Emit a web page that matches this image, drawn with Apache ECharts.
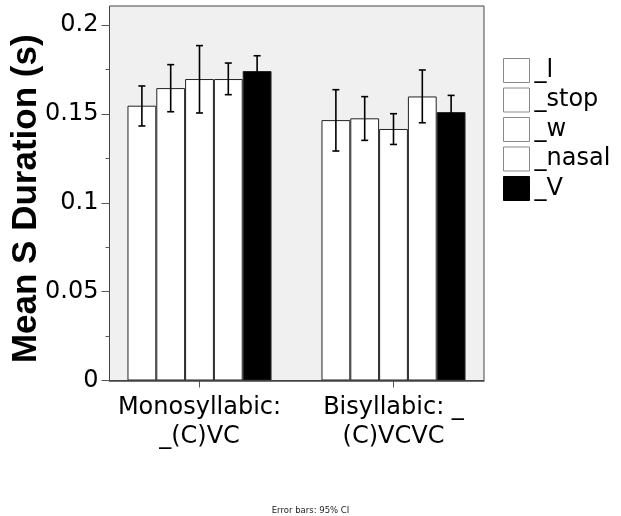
<!DOCTYPE html>
<html>
<head>
<meta charset="utf-8">
<script src="https://cdn.jsdelivr.net/npm/echarts@6/dist/echarts.min.js"></script>
<style>html,body{margin:0;padding:0;background:#fff;}#chart{width:621px;height:516px;}</style>
</head>
<body>
<div id="chart"></div>
<script>
// ---- data ----
var categories = ['Monosyllabic:\n_(C)VC', 'Bisyllabic: _\n(C)VCVC'];
var seriesNames = ['_l', '_stop', '_w', '_nasal', '_V'];
var mean_l     = [0.1546, 0.1465];
var mean_stop  = [0.1645, 0.1475];
var mean_w     = [0.1696, 0.1415];
var mean_nasal = [0.1696, 0.1598];
var mean_V     = [0.1741, 0.1510];
var ciLow_l     = [0.1432, 0.1291];
var ciHigh_l    = [0.1657, 0.1636];
var ciLow_stop  = [0.1512, 0.1351];
var ciHigh_stop = [0.1777, 0.1597];
var ciLow_w     = [0.1505, 0.1328];
var ciHigh_w    = [0.1884, 0.1501];
var ciLow_nasal = [0.1608, 0.1450];
var ciHigh_nasal= [0.1786, 0.1747];
var ciLow_V     = [0.1655, 0.1416];
var ciHigh_V    = [0.1827, 0.1604];
var yTicks = [0, 0.05, 0.1, 0.15, 0.2];
var footnote = 'Error bars: 95% CI';
var yTitle = 'Mean S Duration (s)';

// ---- build ----
var means = [mean_l, mean_stop, mean_w, mean_nasal, mean_V];
var lows = [ciLow_l, ciLow_stop, ciLow_w, ciLow_nasal, ciLow_V];
var highs = [ciHigh_l, ciHigh_stop, ciHigh_w, ciHigh_nasal, ciHigh_V];
var fills = ['#ffffff', '#ffffff', '#ffffff', '#ffffff', '#000000'];
var BAR_FRAC = 0.1485;
var FONT = 'DejaVu Sans';

var errData = [];
for (var s = 0; s < seriesNames.length; s++) {
  for (var c = 0; c < categories.length; c++) {
    errData.push([c, s, lows[s][c], highs[s][c]]);
  }
}

var series = seriesNames.map(function (name, i) {
  return {
    name: name,
    type: 'bar',
    xAxisIndex: 2,
    yAxisIndex: 2,
    barWidth: (BAR_FRAC * 100) + '%',
    barGap: '0%',
    data: means[i],
    itemStyle: { color: fills[i], borderColor: '#222', borderWidth: 1 },
    emphasis: { disabled: true },
    animation: false
  };
});

series.push({
  name: 'errorbars',
  type: 'custom',
  xAxisIndex: 2,
  yAxisIndex: 2,
  data: errData,
  z: 5,
  animation: false,
  renderItem: function (params, api) {
    var cat = api.value(0), si = api.value(1);
    var band = api.size([1, 0])[0];
    var bw = band * BAR_FRAC;
    var n = seriesNames.length;
    var cx = api.coord([cat, 0])[0] + (si - (n - 1) / 2) * bw;
    var yl = api.coord([cat, api.value(2)])[1];
    var yh = api.coord([cat, api.value(3)])[1];
    var hw = 3.5;
    var st = { stroke: '#000', lineWidth: 1.6 };
    return {
      type: 'group',
      children: [
        { type: 'line', shape: { x1: cx, y1: yl, x2: cx, y2: yh }, style: st },
        { type: 'line', shape: { x1: cx - hw, y1: yh, x2: cx + hw, y2: yh }, style: st },
        { type: 'line', shape: { x1: cx - hw, y1: yl, x2: cx + hw, y2: yl }, style: st }
      ]
    };
  }
});

var legendData = seriesNames.map(function (name, i) {
  return {
    name: name,
    icon: 'rect',
    itemStyle: { color: fills[i], borderColor: i === 4 ? '#000' : '#888', borderWidth: 1 }
  };
});

var option = {
  animation: false,
  backgroundColor: '#ffffff',
  title: {
    text: footnote,
    left: 'center',
    top: 501,
    textStyle: { fontFamily: FONT, fontSize: 8.5, fontWeight: 'normal', color: '#222' }
  },
  legend: {
    orient: 'vertical',
    left: 503,
    top: 58,
    itemWidth: 26,
    itemHeight: 24,
    itemGap: 4.5,
    padding: 0,
    selectedMode: false,
    data: legendData,
    textStyle: { fontFamily: FONT, fontSize: 24, color: '#000', lineHeight: 17, padding: [7, 0, 0, 0] }
  },
  grid: [
    { left: 109.5, top: 6, width: 374.5, height: 374.5, outerBoundsMode: 'none', containLabel: false, show: true, backgroundColor: '#f0f0f0', borderColor: '#444', borderWidth: 1 },
    { left: 109.5, top: 25, width: 374.5, height: 355.5, outerBoundsMode: 'none', containLabel: false },
    { left: 102.5, top: 25, width: 388, height: 355.5, outerBoundsMode: 'none', containLabel: false },
    { left: 109.5, top: 25, width: 374.5, height: 355.5, outerBoundsMode: 'none', containLabel: false }
  ],
  xAxis: [
    { gridIndex: 0, type: 'category', data: categories, show: false },
    { gridIndex: 1, type: 'category', data: categories, z: 6,
      axisLine: { show: true, lineStyle: { color: '#444', width: 1.5 } },
      axisTick: { show: false }, axisLabel: { show: false }, splitLine: { show: false } },
    { gridIndex: 2, type: 'category', data: categories,
      axisLine: { show: false },
      axisTick: { show: true, alignWithLabel: true, interval: 0, length: 7, lineStyle: { color: '#555', width: 1 } },
      axisLabel: { interval: 0, margin: 13, fontFamily: FONT, fontSize: 24, color: '#000', lineHeight: 29, align: 'center' },
      splitLine: { show: false } },
    { gridIndex: 3, type: 'category', data: categories, show: false }
  ],
  yAxis: [
    { gridIndex: 0, type: 'value', min: 0, max: 1, show: false },
    { gridIndex: 1, type: 'value', min: 0, max: 0.2, interval: 0.05,
      name: yTitle, nameLocation: 'middle', nameGap: 66, nameMoveOverlap: false,
      nameTextStyle: { fontFamily: 'Liberation Sans', fontWeight: 'bold', fontSize: 35, color: '#000', padding: [0, 0, 0, 8] },
      axisLine: { show: false },
      axisTick: { show: true, length: 8, lineStyle: { color: '#555', width: 1 } },
      axisLabel: { margin: 11, fontFamily: FONT, fontSize: 24, color: '#000',
        formatter: function (v) { return yTicks.indexOf(Math.round(v * 1000) / 1000) >= 0 ? String(Math.round(v * 1000) / 1000) : ''; } },
      splitLine: { show: false } },
    { gridIndex: 2, type: 'value', min: 0, max: 0.2, show: false },
    { gridIndex: 3, type: 'value', min: 0, max: 0.2, interval: 0.025,
      axisLine: { show: false },
      axisTick: { show: true, length: 4, lineStyle: { color: '#555', width: 1 } },
      axisLabel: { show: false },
      splitLine: { show: false } }
  ],
  series: series
};

var chart = echarts.init(document.getElementById('chart'), null, { renderer: 'canvas' });
chart.setOption(option);
</script>
</body>
</html>
